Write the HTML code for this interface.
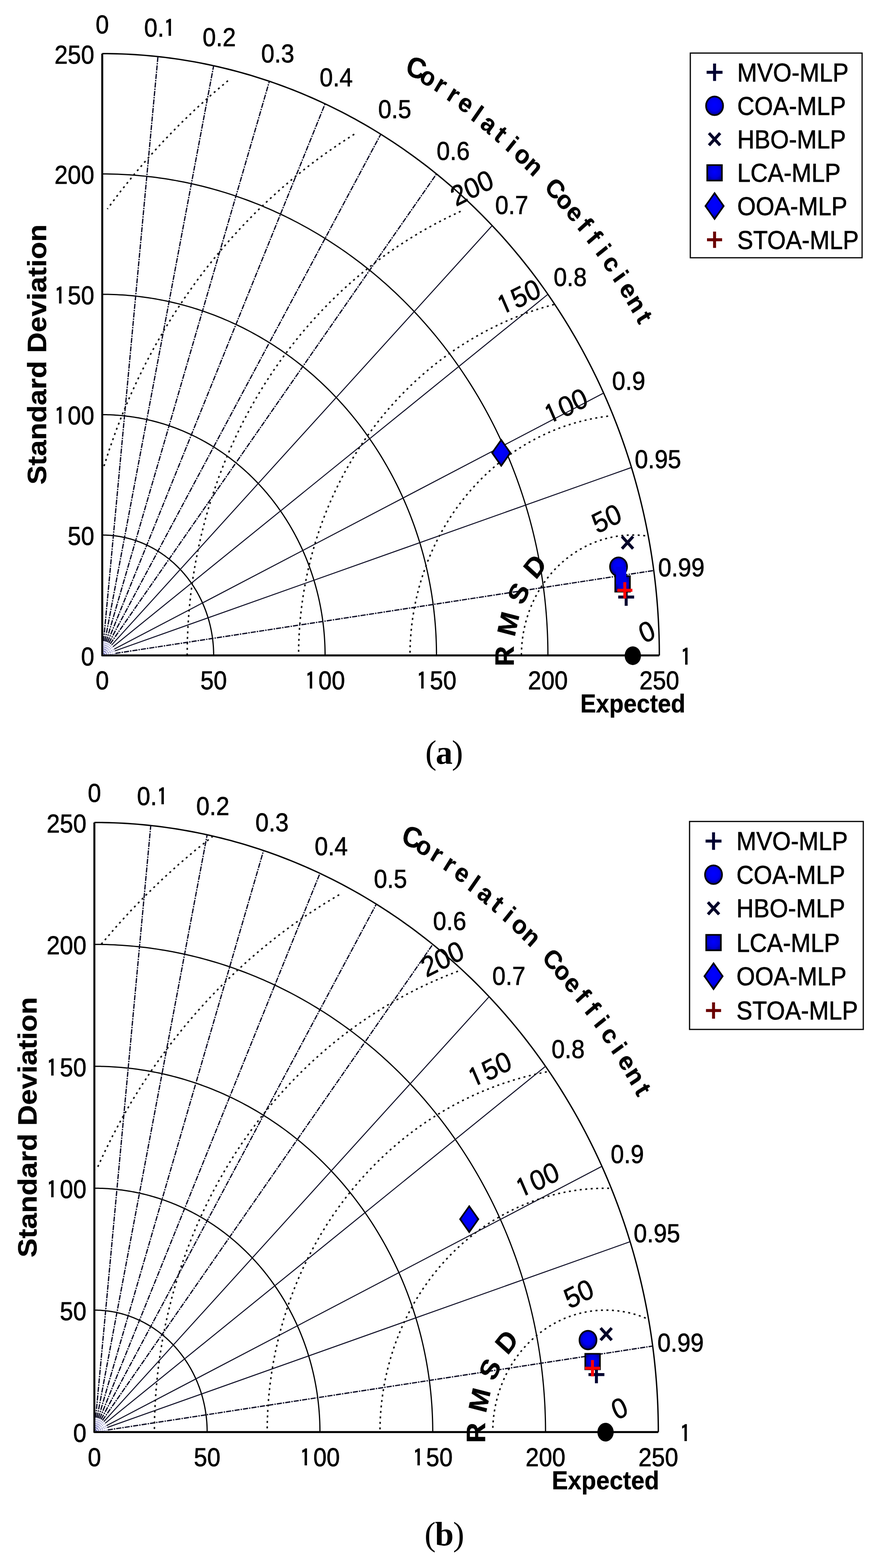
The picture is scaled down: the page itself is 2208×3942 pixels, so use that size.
<!DOCTYPE html>
<html><head><meta charset="utf-8"><title>Taylor diagrams</title>
<style>
html,body{margin:0;padding:0;background:#fff;overflow:hidden;width:2208px;height:3942px;}
svg{display:block;}
text{font-family:"Liberation Sans",Arial,Helvetica,sans-serif;fill:#000;stroke:#000;stroke-width:0.9px;}
text[font-weight="bold"]{stroke-width:0.5px;}
.one{font-family:"IPAGothic","Liberation Sans",Arial,sans-serif;stroke-width:1.6px;}
</style></head><body>
<svg width="2208" height="3942" viewBox="0 0 2208 3942">
<defs>
<radialGradient id="gb" cx="50%" cy="45%" r="55%"><stop offset="0" stop-color="#0000ff"/><stop offset="0.6" stop-color="#0000f0"/><stop offset="1" stop-color="#00008a"/></radialGradient>
<radialGradient id="gbs" cx="50%" cy="45%" r="60%"><stop offset="0" stop-color="#0000ff"/><stop offset="0.6" stop-color="#0000e0"/><stop offset="1" stop-color="#000090"/></radialGradient>
</defs>
<rect width="2208" height="3942" fill="#fff"/>
<polyline points="537.3,1647.7 537.29,1645.06 537.26,1642.42 537.2,1639.78 537.13,1637.14 537.03,1634.5 536.92,1631.86 536.78,1629.23 536.62,1626.59 536.44,1623.96 536.23,1621.33 536.01,1618.7 535.77,1616.07 535.5,1613.44 535.21,1610.82 534.9,1608.2 534.57,1605.59 534.22,1602.97 533.85,1600.36 533.46,1597.76 533.04,1595.15 532.61,1592.56 532.15,1589.96 531.67,1587.37 531.18,1584.79 530.66,1582.21 530.12,1579.63 529.56,1577.06 528.98,1574.49 528.37,1571.94 527.75,1569.38 527.11,1566.83 526.45,1564.29 525.76,1561.76 525.06,1559.23 524.33,1556.71 523.59,1554.19 522.82,1551.68 522.03,1549.18 521.23,1546.69 520.4,1544.2 519.56,1541.73 518.69,1539.26 517.8,1536.8 516.9,1534.34 515.97,1531.9 515.03,1529.46 514.06,1527.04 513.08,1524.62 512.07,1522.21 511.05,1519.82 510,1517.43 508.94,1515.05 507.86,1512.68 506.76,1510.32 505.64,1507.97 504.5,1505.64 503.34,1503.31 502.17,1501 500.97,1498.69 499.76,1496.4 498.53,1494.12 497.28,1491.85 496.01,1489.59 494.72,1487.35 493.42,1485.11 492.1,1482.89 490.75,1480.68 489.4,1478.49 488.02,1476.31 486.63,1474.14 485.22,1471.98 483.79,1469.84 482.34,1467.71 480.88,1465.59 479.4,1463.49 477.9,1461.4 476.39,1459.33 474.86,1457.27 473.31,1455.22 471.75,1453.19 470.17,1451.18 468.57,1449.18 466.96,1447.19 465.33,1445.22 463.69,1443.27 462.03,1441.33 460.35,1439.4 458.66,1437.5 456.95,1435.6 455.23,1433.73 453.49,1431.87 451.74,1430.03 449.98,1428.2 448.2,1426.39 446.4,1424.6 444.59,1422.82 442.77,1421.07 440.93,1419.32 439.08,1417.6 437.21,1415.89 435.33,1414.21 433.44,1412.54 431.53,1410.88 429.61,1409.25 427.67,1407.63 425.73,1406.03 423.77,1404.45 421.8,1402.89 419.81,1401.35 417.82,1399.82 415.81,1398.32 413.79,1396.83 411.75,1395.37 409.71,1393.92 407.65,1392.49 405.58,1391.08 403.5,1389.69 401.41,1388.32 399.31,1386.97 397.2,1385.64 395.08,1384.33 392.94,1383.04 390.8,1381.77 388.65,1380.52 386.48,1379.29 384.31,1378.08 382.12,1376.89 379.93,1375.72 377.73,1374.58 375.52,1373.45 373.3,1372.35 371.07,1371.26 368.83,1370.2 366.58,1369.16 364.33,1368.13 362.06,1367.13 359.79,1366.16 357.51,1365.2 355.23,1364.26 352.93,1363.35 350.63,1362.46 348.32,1361.59 346.01,1360.74 343.69,1359.91 341.36,1359.11 339.02,1358.32 336.68,1357.56 334.33,1356.82 331.98,1356.11 329.62,1355.41 327.26,1354.74 324.89,1354.09 322.51,1353.46 320.13,1352.86 317.75,1352.27 315.36,1351.71 312.96,1351.17 310.56,1350.66 308.16,1350.17 305.76,1349.7 303.35,1349.25 300.93,1348.83 298.52,1348.42 296.1,1348.04 293.67,1347.69 291.25,1347.36 288.82,1347.05 286.39,1346.76 283.96,1346.49 281.52,1346.25 279.08,1346.03 276.65,1345.84 274.21,1345.66 271.76,1345.51 269.32,1345.39 266.88,1345.28 264.43,1345.2 261.99,1345.15 259.55,1345.11 257.1,1345.1" fill="none" stroke="#000" stroke-width="3"/>
<polyline points="817.5,1647.7 817.48,1642.42 817.41,1637.14 817.31,1631.86 817.16,1626.58 816.97,1621.3 816.73,1616.03 816.45,1610.75 816.13,1605.48 815.77,1600.22 815.37,1594.95 814.92,1589.69 814.43,1584.44 813.9,1579.19 813.32,1573.94 812.71,1568.71 812.05,1563.47 811.34,1558.25 810.6,1553.03 809.81,1547.81 808.99,1542.61 808.12,1537.41 807.2,1532.22 806.25,1527.04 805.25,1521.87 804.22,1516.71 803.14,1511.56 802.02,1506.42 800.85,1501.29 799.65,1496.17 798.4,1491.06 797.12,1485.97 795.79,1480.88 794.42,1475.81 793.01,1470.76 791.56,1465.71 790.07,1460.68 788.54,1455.67 786.97,1450.67 785.36,1445.68 783.7,1440.71 782.01,1435.75 780.28,1430.82 778.51,1425.89 776.69,1420.99 774.84,1416.1 772.95,1411.23 771.02,1406.38 769.05,1401.54 767.04,1396.73 764.99,1391.93 762.91,1387.15 760.78,1382.4 758.62,1377.66 756.42,1372.94 754.18,1368.25 751.9,1363.58 749.59,1358.92 747.24,1354.29 744.85,1349.69 742.42,1345.1 739.96,1340.54 737.46,1336 734.92,1331.48 732.35,1326.99 729.74,1322.53 727.09,1318.08 724.41,1313.67 721.69,1309.28 718.94,1304.91 716.15,1300.57 713.33,1296.26 710.47,1291.97 707.58,1287.71 704.66,1283.48 701.7,1279.28 698.7,1275.1 695.67,1270.95 692.61,1266.84 689.52,1262.75 686.39,1258.68 683.23,1254.65 680.04,1250.65 676.81,1246.68 673.56,1242.74 670.27,1238.83 666.95,1234.95 663.6,1231.11 660.22,1227.29 656.81,1223.51 653.36,1219.76 649.89,1216.04 646.39,1212.36 642.85,1208.7 639.29,1205.08 635.7,1201.5 632.08,1197.95 628.43,1194.43 624.76,1190.95 621.05,1187.5 617.32,1184.09 613.56,1180.71 609.77,1177.37 605.96,1174.07 602.12,1170.8 598.25,1167.56 594.36,1164.37 590.44,1161.21 586.49,1158.08 582.53,1155 578.53,1151.95 574.51,1148.94 570.47,1145.97 566.41,1143.03 562.32,1140.14 558.2,1137.28 554.07,1134.46 549.91,1131.68 545.73,1128.94 541.52,1126.24 537.3,1123.58 533.05,1120.96 528.79,1118.38 524.5,1115.84 520.19,1113.34 515.86,1110.88 511.52,1108.46 507.15,1106.09 502.76,1103.75 498.36,1101.46 493.94,1099.2 489.49,1096.99 485.04,1094.82 480.56,1092.7 476.07,1090.61 471.56,1088.57 467.03,1086.57 462.49,1084.61 457.93,1082.7 453.36,1080.83 448.77,1079 444.17,1077.21 439.55,1075.47 434.92,1073.77 430.27,1072.12 425.62,1070.51 420.95,1068.94 416.26,1067.42 411.57,1065.94 406.86,1064.51 402.14,1063.12 397.41,1061.78 392.67,1060.48 387.92,1059.22 383.16,1058.01 378.39,1056.85 373.61,1055.73 368.83,1054.65 364.03,1053.62 359.22,1052.63 354.41,1051.69 349.59,1050.8 344.77,1049.95 339.93,1049.15 335.09,1048.39 330.25,1047.68 325.4,1047.01 320.54,1046.39 315.68,1045.82 310.81,1045.29 305.94,1044.8 301.07,1044.37 296.19,1043.97 291.31,1043.63 286.43,1043.33 281.54,1043.08 276.66,1042.87 271.77,1042.71 266.88,1042.59 261.99,1042.52 257.1,1042.5" fill="none" stroke="#000" stroke-width="3"/>
<polyline points="1097.7,1647.7 1097.67,1639.78 1097.57,1631.86 1097.41,1623.94 1097.19,1616.02 1096.9,1608.1 1096.55,1600.19 1096.13,1592.28 1095.65,1584.38 1095.11,1576.47 1094.5,1568.58 1093.83,1560.69 1093.1,1552.81 1092.3,1544.93 1091.43,1537.07 1090.51,1529.21 1089.52,1521.36 1088.47,1513.52 1087.35,1505.69 1086.17,1497.87 1084.93,1490.06 1083.62,1482.27 1082.26,1474.48 1080.82,1466.71 1079.33,1458.96 1077.77,1451.22 1076.16,1443.49 1074.47,1435.78 1072.73,1428.08 1070.92,1420.41 1069.06,1412.74 1067.13,1405.1 1065.14,1397.48 1063.08,1389.87 1060.97,1382.28 1058.79,1374.72 1056.56,1367.17 1054.26,1359.65 1051.9,1352.15 1049.48,1344.67 1047.01,1337.21 1044.47,1329.78 1041.87,1322.37 1039.21,1314.99 1036.49,1307.63 1033.71,1300.3 1030.88,1292.99 1027.98,1285.72 1025.03,1278.46 1022.01,1271.24 1018.94,1264.05 1015.81,1256.88 1012.63,1249.75 1009.38,1242.64 1006.08,1235.57 1002.72,1228.52 999.31,1221.51 995.83,1214.54 992.31,1207.59 988.72,1200.68 985.08,1193.8 981.39,1186.96 977.63,1180.15 973.83,1173.38 969.97,1166.64 966.05,1159.94 962.09,1153.28 958.06,1146.65 953.99,1140.06 949.86,1133.52 945.68,1127.01 941.45,1120.54 937.16,1114.11 932.82,1107.72 928.43,1101.37 923.99,1095.07 919.5,1088.8 914.96,1082.58 910.37,1076.4 905.73,1070.27 901.04,1064.18 896.3,1058.13 891.51,1052.13 886.67,1046.17 881.79,1040.26 876.86,1034.4 871.88,1028.58 866.85,1022.81 861.78,1017.09 856.66,1011.41 851.49,1005.79 846.28,1000.21 841.03,994.68 835.73,989.21 830.39,983.78 825,978.4 819.57,973.07 814.1,967.8 808.58,962.57 803.03,957.4 797.43,952.28 791.79,947.22 786.11,942.21 780.39,937.25 774.63,932.34 768.82,927.49 762.99,922.7 757.11,917.96 751.19,913.27 745.24,908.65 739.25,904.07 733.22,899.56 727.16,895.1 721.06,890.7 714.92,886.35 708.75,882.07 702.55,877.84 696.31,873.67 690.04,869.56 683.74,865.51 677.4,861.52 671.03,857.59 664.63,853.72 658.2,849.91 651.74,846.16 645.25,842.47 638.72,838.84 632.17,835.28 625.59,831.77 618.99,828.33 612.35,824.95 605.69,821.64 599,818.38 592.29,815.19 585.55,812.07 578.78,809 571.99,806 565.18,803.07 558.34,800.2 551.48,797.39 544.6,794.65 537.7,791.97 530.77,789.36 523.83,786.81 516.86,784.33 509.87,781.92 502.87,779.57 495.84,777.28 488.8,775.07 481.74,772.92 474.66,770.83 467.57,768.82 460.46,766.87 453.33,764.98 446.19,763.17 439.04,761.42 431.87,759.74 424.69,758.12 417.49,756.58 410.29,755.1 403.07,753.69 395.84,752.35 388.6,751.08 381.35,749.87 374.09,748.73 366.82,747.67 359.54,746.67 352.26,745.74 344.97,744.87 337.67,744.08 330.36,743.35 323.05,742.7 315.74,742.11 308.42,741.59 301.09,741.14 293.77,740.76 286.44,740.45 279.1,740.21 271.77,740.04 264.44,739.93 257.1,739.9" fill="none" stroke="#000" stroke-width="3"/>
<polyline points="1377.9,1647.7 1377.86,1637.14 1377.73,1626.58 1377.52,1616.02 1377.22,1605.46 1376.83,1594.9 1376.36,1584.35 1375.81,1573.81 1375.17,1563.27 1374.44,1552.73 1373.64,1542.21 1372.74,1531.69 1371.76,1521.18 1370.7,1510.68 1369.55,1500.19 1368.31,1489.71 1366.99,1479.24 1365.59,1468.79 1364.1,1458.35 1362.53,1447.93 1360.87,1437.52 1359.13,1427.12 1357.31,1416.74 1355.4,1406.39 1353.41,1396.04 1351.33,1385.72 1349.17,1375.42 1346.93,1365.14 1344.61,1354.88 1342.2,1344.64 1339.71,1334.43 1337.14,1324.23 1334.48,1314.07 1331.75,1303.93 1328.93,1293.81 1326.03,1283.73 1323.04,1273.67 1319.98,1263.63 1316.84,1253.63 1313.61,1243.66 1310.31,1233.72 1306.92,1223.81 1303.46,1213.93 1299.91,1204.09 1296.29,1194.28 1292.58,1184.5 1288.8,1174.76 1284.94,1165.05 1281,1155.39 1276.98,1145.76 1272.89,1136.16 1268.72,1126.61 1264.47,1117.1 1260.14,1107.62 1255.74,1098.19 1251.26,1088.8 1246.71,1079.45 1242.08,1070.15 1237.37,1060.89 1232.59,1051.67 1227.74,1042.5 1222.81,1033.38 1217.81,1024.3 1212.74,1015.27 1207.59,1006.29 1202.37,997.35 1197.08,988.47 1191.72,979.64 1186.29,970.85 1180.78,962.12 1175.21,953.44 1169.56,944.82 1163.85,936.24 1158.06,927.73 1152.21,919.26 1146.29,910.86 1140.3,902.5 1134.25,894.21 1128.13,885.97 1121.94,877.79 1115.68,869.67 1109.36,861.61 1102.98,853.61 1096.53,845.66 1090.02,837.78 1083.44,829.97 1076.8,822.21 1070.1,814.52 1063.34,806.89 1056.51,799.32 1049.63,791.82 1042.68,784.38 1035.67,777.01 1028.61,769.71 1021.48,762.47 1014.3,755.3 1007.06,748.2 999.76,741.16 992.41,734.2 985,727.3 977.54,720.48 970.02,713.73 962.44,707.04 954.81,700.43 947.13,693.89 939.4,687.43 931.61,681.03 923.78,674.71 915.89,668.47 907.95,662.29 899.96,656.2 891.93,650.18 883.84,644.23 875.71,638.36 867.53,632.57 859.31,626.86 851.03,621.22 842.72,615.66 834.35,610.18 825.95,604.78 817.5,599.46 809.01,594.22 800.47,589.06 791.9,583.98 783.28,578.98 774.63,574.06 765.93,569.23 757.2,564.47 748.43,559.8 739.62,555.21 730.77,550.71 721.89,546.28 712.97,541.94 704.02,537.69 695.03,533.52 686.01,529.44 676.96,525.44 667.87,521.52 658.76,517.69 649.61,513.95 640.44,510.3 631.23,506.73 622,503.24 612.74,499.85 603.45,496.54 594.13,493.32 584.79,490.19 575.42,487.14 566.03,484.19 556.62,481.32 547.18,478.54 537.73,475.85 528.25,473.25 518.75,470.74 509.23,468.32 499.69,465.99 490.13,463.75 480.55,461.6 470.96,459.54 461.35,457.57 451.72,455.69 442.09,453.9 432.43,452.2 422.76,450.6 413.09,449.08 403.39,447.66 393.69,446.32 383.98,445.08 374.26,443.93 364.52,442.87 354.78,441.91 345.04,441.03 335.28,440.25 325.52,439.56 315.76,438.96 305.99,438.45 296.22,438.04 286.44,437.71 276.66,437.48 266.88,437.35 257.1,437.3" fill="none" stroke="#000" stroke-width="3"/>
<polyline points="1658.1,1647.7 1658.05,1634.5 1657.89,1621.29 1657.62,1608.09 1657.25,1594.9 1656.77,1581.7 1656.18,1568.52 1655.49,1555.33 1654.69,1542.16 1653.78,1528.99 1652.77,1515.83 1651.65,1502.69 1650.43,1489.55 1649.09,1476.42 1647.66,1463.31 1646.11,1450.21 1644.47,1437.13 1642.71,1424.06 1640.85,1411.01 1638.89,1397.98 1636.82,1384.97 1634.64,1371.98 1632.36,1359.01 1629.97,1346.06 1627.48,1333.13 1624.89,1320.23 1622.19,1307.35 1619.39,1294.5 1616.48,1281.67 1613.47,1268.88 1610.36,1256.11 1607.15,1243.37 1603.83,1230.66 1600.41,1217.98 1596.88,1205.34 1593.26,1192.73 1589.53,1180.16 1585.7,1167.62 1581.77,1155.12 1577.74,1142.65 1573.61,1130.22 1569.38,1117.84 1565.05,1105.49 1560.62,1093.18 1556.08,1080.92 1551.46,1068.7 1546.73,1056.52 1541.9,1044.39 1536.98,1032.31 1531.96,1020.27 1526.84,1008.28 1521.62,996.34 1516.31,984.44 1510.9,972.6 1505.4,960.81 1499.8,949.07 1494.11,937.39 1488.32,925.76 1482.44,914.18 1476.47,902.66 1470.4,891.2 1464.24,879.79 1457.99,868.45 1451.65,857.16 1445.22,845.93 1438.69,834.77 1432.08,823.66 1425.37,812.62 1418.58,801.64 1411.7,790.73 1404.73,779.88 1397.68,769.1 1390.53,758.38 1383.3,747.73 1375.99,737.15 1368.59,726.64 1361.1,716.2 1353.53,705.84 1345.88,695.54 1338.15,685.31 1330.33,675.16 1322.43,665.09 1314.45,655.08 1306.39,645.16 1298.25,635.31 1290.03,625.53 1281.73,615.84 1273.35,606.22 1264.9,596.68 1256.36,587.22 1247.76,577.85 1239.07,568.55 1230.32,559.34 1221.48,550.21 1212.58,541.16 1203.6,532.2 1194.55,523.32 1185.43,514.53 1176.24,505.82 1166.98,497.21 1157.65,488.67 1148.25,480.23 1138.78,471.88 1129.24,463.61 1119.64,455.44 1109.97,447.36 1100.24,439.36 1090.45,431.46 1080.59,423.66 1070.66,415.94 1060.68,408.32 1050.64,400.8 1040.53,393.37 1030.36,386.03 1020.14,378.79 1009.86,371.65 999.52,364.6 989.12,357.66 978.67,350.81 968.16,344.06 957.6,337.4 946.99,330.85 936.32,324.4 925.6,318.05 914.83,311.8 904.01,305.65 893.14,299.61 882.22,293.66 871.26,287.82 860.25,282.09 849.19,276.46 838.09,270.93 826.94,265.51 815.75,260.19 804.51,254.98 793.24,249.87 781.92,244.87 770.57,239.98 759.17,235.19 747.74,230.51 736.27,225.95 724.76,221.48 713.22,217.13 701.64,212.89 690.03,208.75 678.39,204.73 666.71,200.81 655.01,197.01 643.27,193.31 631.5,189.73 619.71,186.25 607.88,182.89 596.03,179.64 584.16,176.5 572.26,173.48 560.33,170.56 548.38,167.76 536.41,165.07 524.42,162.5 512.41,160.04 500.38,157.69 488.33,155.45 476.26,153.33 464.18,151.32 452.08,149.42 439.97,147.64 427.84,145.98 415.7,144.43 403.54,142.99 391.38,141.67 379.21,140.46 367.02,139.36 354.83,138.39 342.63,137.52 330.42,136.77 318.21,136.14 305.99,135.62 293.77,135.22 281.55,134.93 269.33,134.76 257.1,134.7" fill="none" stroke="#000" stroke-width="3.4"/>
<line x1="257.1" y1="1647.7" x2="260.46" y2="1611.57" stroke="#6a6ab8" stroke-width="1.4" stroke-dasharray="3 2"/>
<line x1="260.46" y1="1611.57" x2="397.2" y2="142.28" stroke="#0c0c24" stroke-width="3.2" stroke-dasharray="13 2.5 3.5 2.5"/>
<line x1="257.1" y1="1647.7" x2="263.82" y2="1612.12" stroke="#6a6ab8" stroke-width="1.4" stroke-dasharray="3 2"/>
<line x1="263.82" y1="1612.12" x2="537.3" y2="165.27" stroke="#0c0c24" stroke-width="3.2" stroke-dasharray="13 2.5 3.5 2.5"/>
<line x1="257.1" y1="1647.7" x2="267.19" y2="1613.06" stroke="#6a6ab8" stroke-width="1.4" stroke-dasharray="3 2"/>
<line x1="267.19" y1="1613.06" x2="677.4" y2="204.39" stroke="#0c0c24" stroke-width="3.2" stroke-dasharray="13 2.5 3.5 2.5"/>
<line x1="257.1" y1="1647.7" x2="270.55" y2="1614.42" stroke="#6a6ab8" stroke-width="1.4" stroke-dasharray="3 2"/>
<line x1="270.55" y1="1614.42" x2="817.5" y2="261.01" stroke="#0c0c24" stroke-width="3.2" stroke-dasharray="13 2.5 3.5 2.5"/>
<line x1="257.1" y1="1647.7" x2="273.91" y2="1616.25" stroke="#6a6ab8" stroke-width="1.4" stroke-dasharray="3 2"/>
<line x1="273.91" y1="1616.25" x2="957.6" y2="337.4" stroke="#0c0c24" stroke-width="3.2" stroke-dasharray="13 2.5 3.5 2.5"/>
<line x1="257.1" y1="1647.7" x2="277.27" y2="1618.65" stroke="#6a6ab8" stroke-width="1.4" stroke-dasharray="3 2"/>
<line x1="277.27" y1="1618.65" x2="1097.7" y2="437.3" stroke="#0c0c24" stroke-width="3.2" stroke-dasharray="13 2.5 3.5 2.5"/>
<line x1="257.1" y1="1647.7" x2="280.64" y2="1621.77" stroke="#6a6ab8" stroke-width="1.4" stroke-dasharray="3 2"/>
<line x1="280.64" y1="1621.77" x2="1237.8" y2="567.2" stroke="#0c0c24" stroke-width="2.5"/>
<line x1="257.1" y1="1647.7" x2="284" y2="1625.91" stroke="#6a6ab8" stroke-width="1.4" stroke-dasharray="3 2"/>
<line x1="284" y1="1625.91" x2="1377.9" y2="739.9" stroke="#0c0c24" stroke-width="2.5"/>
<line x1="257.1" y1="1647.7" x2="287.36" y2="1631.87" stroke="#6a6ab8" stroke-width="1.4" stroke-dasharray="3 2"/>
<line x1="287.36" y1="1631.87" x2="1518" y2="988.2" stroke="#0c0c24" stroke-width="2.5"/>
<line x1="257.1" y1="1647.7" x2="289.04" y2="1636.36" stroke="#6a6ab8" stroke-width="1.4" stroke-dasharray="3 2"/>
<line x1="289.04" y1="1636.36" x2="1588.05" y2="1175.27" stroke="#0c0c24" stroke-width="2.5"/>
<line x1="257.1" y1="1647.7" x2="290.39" y2="1642.58" stroke="#6a6ab8" stroke-width="1.4" stroke-dasharray="3 2"/>
<line x1="290.39" y1="1642.58" x2="1644.09" y2="1434.27" stroke="#0c0c24" stroke-width="3.2" stroke-dasharray="13 2.5 3.5 2.5"/>
<polyline points="1622.47,1346.96 1613.62,1346.05 1604.74,1345.44 1595.86,1345.14 1586.97,1345.14 1578.08,1345.44 1569.21,1346.05 1560.36,1346.96 1551.54,1348.18 1542.76,1349.7 1534.03,1351.51 1525.35,1353.63 1516.75,1356.04 1508.22,1358.75 1499.77,1361.74 1491.41,1365.03 1483.16,1368.6 1475.01,1372.45 1466.98,1376.57 1459.08,1380.97 1451.31,1385.64 1443.68,1390.57 1436.2,1395.76 1428.88,1401.21 1421.72,1406.9 1414.73,1412.84 1407.92,1419.01 1401.29,1425.41 1394.86,1432.04 1388.62,1438.88 1382.59,1445.94 1376.77,1453.19 1371.16,1460.65 1365.78,1468.29 1360.62,1476.11 1355.69,1484.1 1351.01,1492.26 1346.56,1500.58 1342.36,1509.04 1338.41,1517.64 1334.72,1526.38 1331.28,1535.23 1328.11,1544.2 1325.2,1553.28 1322.56,1562.45 1320.19,1571.7 1318.1,1581.03 1316.28,1590.43 1314.73,1599.89 1313.47,1609.39 1312.48,1618.94 1311.78,1628.51 1311.35,1638.1 1311.21,1647.7" fill="none" stroke="#111" stroke-width="3.8" stroke-dasharray="5 8.8"/>
<polyline points="1529.3,1046.23 1511.66,1048.66 1494.1,1051.69 1476.64,1055.33 1459.29,1059.56 1442.08,1064.38 1425.02,1069.79 1408.12,1075.79 1391.41,1082.35 1374.9,1089.49 1358.61,1097.19 1342.56,1105.44 1326.75,1114.24 1311.21,1123.58 1295.96,1133.45 1281,1143.83 1266.35,1154.72 1252.03,1166.1 1238.05,1177.98 1224.43,1190.32 1211.18,1203.13 1198.31,1216.38 1185.83,1230.06 1173.77,1244.17 1162.12,1258.68 1150.91,1273.59 1140.14,1288.87 1129.82,1304.52 1119.97,1320.5 1110.6,1336.82 1101.71,1353.45 1093.31,1370.38 1085.41,1387.59 1078.03,1405.06 1071.16,1422.77 1064.81,1440.71 1058.99,1458.86 1053.71,1477.2 1048.97,1495.71 1044.78,1514.37 1041.14,1533.17 1038.05,1552.08 1035.52,1571.09 1033.55,1590.17 1032.14,1609.32 1031.29,1628.5 1031.01,1647.7" fill="none" stroke="#111" stroke-width="3.8" stroke-dasharray="5 8.8"/>
<polyline points="1393.23,765.49 1367.41,772.72 1341.82,780.84 1316.48,789.83 1291.41,799.68 1266.65,810.39 1242.21,821.94 1218.13,834.32 1194.42,847.52 1171.11,861.52 1148.23,876.32 1125.79,891.89 1103.82,908.23 1082.34,925.31 1061.37,943.11 1040.94,961.63 1021.06,980.84 1001.75,1000.72 983.04,1021.25 964.94,1042.41 947.48,1064.18 930.66,1086.54 914.5,1109.46 899.03,1132.92 884.25,1156.91 870.19,1181.38 856.85,1206.33 844.26,1231.72 832.41,1257.53 821.33,1283.74 811.03,1310.3 801.51,1337.21 792.78,1364.44 784.86,1391.94 777.75,1419.71 771.47,1447.7 766,1475.9 761.37,1504.27 757.58,1532.78 754.62,1561.41 752.5,1590.12 751.24,1618.9 750.81,1647.7" fill="none" stroke="#111" stroke-width="3.8" stroke-dasharray="5 8.8"/>
<polyline points="1158.4,531.28 1125.82,546.68 1093.7,563.19 1062.09,580.79 1031.01,599.46 1000.5,619.19 970.58,639.96 941.28,661.74 912.65,684.51 884.69,708.25 857.44,732.94 830.94,758.55 805.2,785.05 780.25,812.43 756.12,840.64 732.83,869.67 710.4,899.48 688.87,930.04 668.24,961.33 648.54,993.31 629.78,1025.94 612,1059.21 595.21,1093.06 579.41,1127.48 564.64,1162.41 550.9,1197.84 538.2,1233.72 526.57,1270.01 516.01,1306.69 506.54,1343.71 498.15,1381.04 490.87,1418.63 484.69,1456.46 479.63,1494.47 475.69,1532.64 472.87,1570.93 471.18,1609.3 470.61,1647.7" fill="none" stroke="#111" stroke-width="3.8" stroke-dasharray="5 8.8"/>
<polyline points="890.91,337.4 852.77,362.07 815.37,388.02 778.75,415.25 742.95,443.71 708.01,473.39 673.95,504.25 640.82,536.26 608.65,569.39 577.46,603.61 547.3,638.88 518.18,675.16 490.15,712.43 463.23,750.63 437.44,789.74 412.82,829.71 389.38,870.51 367.15,912.08 346.15,954.4 326.41,997.42 307.94,1041.09 290.77,1085.37 274.9,1130.22 260.36,1175.59" fill="none" stroke="#111" stroke-width="3.8" stroke-dasharray="5 8.8"/>
<polyline points="573.26,202.91 531.33,238.53 490.46,275.56 450.7,313.98 412.09,353.73 374.67,394.79 338.47,437.11 303.54,480.65 269.9,525.37" fill="none" stroke="#111" stroke-width="3.8" stroke-dasharray="5 8.8"/>
<polyline points="257.1,134.7 257.1,1647.7 1658.1,1647.7" fill="none" stroke="#000" stroke-width="5" stroke-linejoin="round"/>
<text transform="translate(257.1 1733.1) scale(1 1.0799)" x="0" y="0" font-size="60" text-anchor="middle">0</text>
<text transform="translate(237.1 1672.64) scale(1 1.0799)" x="0" y="0" font-size="60" text-anchor="end">0</text>
<text transform="translate(537.3 1733.1) scale(1 1.0799)" x="0" y="0" font-size="60" text-anchor="middle">50</text>
<text transform="translate(237.1 1370.04) scale(1 1.0799)" x="0" y="0" font-size="60" text-anchor="end">50</text>
<text transform="translate(817.5 1733.1) scale(1 1.0799)" x="0" y="0" font-size="60" text-anchor="middle"><tspan class="one" font-size="54.96" letter-spacing="5.88">1</tspan>00</text>
<text transform="translate(237.1 1067.44) scale(1 1.0799)" x="0" y="0" font-size="60" text-anchor="end"><tspan class="one" font-size="54.96" letter-spacing="5.88">1</tspan>00</text>
<text transform="translate(1097.7 1733.1) scale(1 1.0799)" x="0" y="0" font-size="60" text-anchor="middle"><tspan class="one" font-size="54.96" letter-spacing="5.88">1</tspan>50</text>
<text transform="translate(237.1 764.84) scale(1 1.0799)" x="0" y="0" font-size="60" text-anchor="end"><tspan class="one" font-size="54.96" letter-spacing="5.88">1</tspan>50</text>
<text transform="translate(1377.9 1733.1) scale(1 1.0799)" x="0" y="0" font-size="60" text-anchor="middle">200</text>
<text transform="translate(237.1 462.24) scale(1 1.0799)" x="0" y="0" font-size="60" text-anchor="end">200</text>
<text transform="translate(1658.1 1733.1) scale(1 1.0799)" x="0" y="0" font-size="60" text-anchor="middle">250</text>
<text transform="translate(237.1 159.64) scale(1 1.0799)" x="0" y="0" font-size="60" text-anchor="end">250</text>
<text transform="translate(257.1 83.99) scale(1 1.0799)" x="0" y="0" font-size="60" text-anchor="middle">0</text>
<text transform="translate(404.21 91.95) scale(1 1.0799)" x="0" y="0" font-size="60" text-anchor="middle">0.<tspan class="one" font-size="54.96" letter-spacing="5.88">1</tspan></text>
<text transform="translate(551.31 116.09) scale(1 1.0799)" x="0" y="0" font-size="60" text-anchor="middle">0.2</text>
<text transform="translate(698.41 157.16) scale(1 1.0799)" x="0" y="0" font-size="60" text-anchor="middle">0.3</text>
<text transform="translate(845.52 216.62) scale(1 1.0799)" x="0" y="0" font-size="60" text-anchor="middle">0.4</text>
<text transform="translate(992.62 296.83) scale(1 1.0799)" x="0" y="0" font-size="60" text-anchor="middle">0.5</text>
<text transform="translate(1139.73 401.72) scale(1 1.0799)" x="0" y="0" font-size="60" text-anchor="middle">0.6</text>
<text transform="translate(1286.84 538.11) scale(1 1.0799)" x="0" y="0" font-size="60" text-anchor="middle">0.7</text>
<text transform="translate(1433.94 719.45) scale(1 1.0799)" x="0" y="0" font-size="60" text-anchor="middle">0.8</text>
<text transform="translate(1581.05 980.16) scale(1 1.0799)" x="0" y="0" font-size="60" text-anchor="middle">0.9</text>
<text transform="translate(1654.6 1176.58) scale(1 1.0799)" x="0" y="0" font-size="60" text-anchor="middle">0.95</text>
<text transform="translate(1713.44 1448.53) scale(1 1.0799)" x="0" y="0" font-size="60" text-anchor="middle">0.99</text>
<text transform="translate(1728.15 1672.64) scale(1 1.0799)" x="0" y="0" font-size="60" text-anchor="middle"><tspan class="one" font-size="54.96" letter-spacing="5.88">1</tspan></text>
<text transform="translate(1592.11 1649.2) scale(1 1.0799) rotate(-25)" x="0" y="-13.99" font-size="66" text-anchor="start" xml:space="preserve">  0</text>
<text transform="translate(1474.49 1372.95) scale(1 1.0799) rotate(-25)" x="0" y="-13.99" font-size="66" text-anchor="start" xml:space="preserve">  50</text>
<text transform="translate(1356.08 1098.7) scale(1 1.0799) rotate(-25)" x="0" y="-13.99" font-size="66" text-anchor="start" xml:space="preserve">  <tspan class="one" font-size="60.46" letter-spacing="6.47">1</tspan>00</text>
<text transform="translate(1237.66 824.45) scale(1 1.0799) rotate(-25)" x="0" y="-13.99" font-size="66" text-anchor="start" xml:space="preserve">  <tspan class="one" font-size="60.46" letter-spacing="6.47">1</tspan>50</text>
<text transform="translate(1119.24 550.21) scale(1 1.0799) rotate(-25)" x="0" y="-13.99" font-size="66" text-anchor="start" xml:space="preserve">  200</text>
<text transform="translate(1036.15 207.37) scale(1 1.0799) rotate(18)" x="0" y="-12.72" font-size="67" text-anchor="middle" font-weight="bold">C</text>
<text transform="translate(1060.19 223.59) scale(1 1.0799) rotate(31.36)" x="0" y="-12.72" font-size="60" text-anchor="middle" font-weight="bold">o</text>
<text transform="translate(1091.28 242.6) scale(1 1.0799) rotate(32.73)" x="0" y="-12.72" font-size="60" text-anchor="middle" font-weight="bold">r</text>
<text transform="translate(1122.9 266.41) scale(1 1.0799) rotate(34.09)" x="0" y="-12.72" font-size="60" text-anchor="middle" font-weight="bold">r</text>
<text transform="translate(1153.03 289) scale(1 1.0799) rotate(35.45)" x="0" y="-12.72" font-size="60" text-anchor="middle" font-weight="bold">e</text>
<text transform="translate(1180.65 315.36) scale(1 1.0799) rotate(36.82)" x="0" y="-12.72" font-size="60" text-anchor="middle" font-weight="bold">l</text>
<text transform="translate(1209.74 339.47) scale(1 1.0799) rotate(38.18)" x="0" y="-12.72" font-size="60" text-anchor="middle" font-weight="bold">a</text>
<text transform="translate(1238.3 364.33) scale(1 1.0799) rotate(39.55)" x="0" y="-12.72" font-size="60" text-anchor="middle" font-weight="bold">t</text>
<text transform="translate(1266.31 389.91) scale(1 1.0799) rotate(40.91)" x="0" y="-12.72" font-size="60" text-anchor="middle" font-weight="bold">i</text>
<text transform="translate(1293.74 416.2) scale(1 1.0799) rotate(42.27)" x="0" y="-12.72" font-size="60" text-anchor="middle" font-weight="bold">o</text>
<text transform="translate(1320.58 443.19) scale(1 1.0799) rotate(43.64)" x="0" y="-12.72" font-size="60" text-anchor="middle" font-weight="bold">n</text>
<text transform="translate(1372.45 499.2) scale(1 1.0799) rotate(46.36)" x="0" y="-12.72" font-size="60" text-anchor="middle" font-weight="bold">C</text>
<text transform="translate(1397.44 528.19) scale(1 1.0799) rotate(47.73)" x="0" y="-12.72" font-size="60" text-anchor="middle" font-weight="bold">o</text>
<text transform="translate(1421.79 557.82) scale(1 1.0799) rotate(49.09)" x="0" y="-12.72" font-size="60" text-anchor="middle" font-weight="bold">e</text>
<text transform="translate(1445.47 588.06) scale(1 1.0799) rotate(50.45)" x="0" y="-12.72" font-size="60" text-anchor="middle" font-weight="bold">f</text>
<text transform="translate(1468.49 618.9) scale(1 1.0799) rotate(51.82)" x="0" y="-12.72" font-size="60" text-anchor="middle" font-weight="bold">f</text>
<text transform="translate(1490.81 650.32) scale(1 1.0799) rotate(53.18)" x="0" y="-12.72" font-size="60" text-anchor="middle" font-weight="bold">i</text>
<text transform="translate(1512.44 682.31) scale(1 1.0799) rotate(54.55)" x="0" y="-12.72" font-size="60" text-anchor="middle" font-weight="bold">c</text>
<text transform="translate(1533.36 714.85) scale(1 1.0799) rotate(55.91)" x="0" y="-12.72" font-size="60" text-anchor="middle" font-weight="bold">i</text>
<text transform="translate(1553.56 747.91) scale(1 1.0799) rotate(57.27)" x="0" y="-12.72" font-size="60" text-anchor="middle" font-weight="bold">e</text>
<text transform="translate(1573.02 781.49) scale(1 1.0799) rotate(58.64)" x="0" y="-12.72" font-size="60" text-anchor="middle" font-weight="bold">n</text>
<text transform="translate(1591.73 815.55) scale(1 1.0799) rotate(60)" x="0" y="-12.72" font-size="60" text-anchor="middle" font-weight="bold">t</text>
<text transform="translate(1306.11 1649.5) scale(1 1.0799) rotate(-90)" x="0" y="-13.99" font-size="66" text-anchor="middle" font-weight="bold">R</text>
<text transform="translate(1313.89 1577.62) scale(1 1.0799) rotate(-76.67)" x="0" y="-13.99" font-size="66" text-anchor="middle" font-weight="bold">M</text>
<text transform="translate(1336.8 1509.62) scale(1 1.0799) rotate(-63.33)" x="0" y="-13.99" font-size="66" text-anchor="middle" font-weight="bold">S</text>
<text transform="translate(1373.63 1449.16) scale(1 1.0799) rotate(-50)" x="0" y="-13.99" font-size="66" text-anchor="middle" font-weight="bold">D</text>
<text transform="translate(115.9 891.2) scale(1 1.0799) rotate(-90)" x="0" y="0" font-size="66.5" text-anchor="middle" font-weight="bold">Standard Deviation</text>
<text transform="translate(1591.41 1791.3) scale(1 1.0799)" x="0" y="0" font-size="59.5" text-anchor="middle" font-weight="bold">Expected</text>
<ellipse cx="1591.4" cy="1648.4" rx="20.5" ry="23.5" fill="#000"/>
<path d="M1554.7 1501L1594.7 1501M1574.7 1479.1L1574.7 1522.9" stroke="#000030" stroke-width="7.5"/>
<rect x="1547.2" y="1448.5" width="37" height="39" fill="url(#gbs)" stroke="#000" stroke-width="4"/>
<ellipse cx="1555.5" cy="1424.8" rx="21.5" ry="23.5" fill="url(#gb)" stroke="#000" stroke-width="4"/>
<rect x="1549.2" y="1450.5" width="33" height="35" fill="url(#gbs)"/>
<ellipse cx="1555.5" cy="1424.8" rx="19.5" ry="21.5" fill="url(#gb)"/>
<rect x="1549.2" y="1424.8" width="25.8" height="43.2" fill="#0000e8"/>
<path d="M1564.1 1348.8L1592.1 1379.4M1564.1 1379.4L1592.1 1348.8" stroke="#000028" stroke-width="7.5"/>
<polygon points="1260.5,1106 1283.5,1138.5 1260.5,1171 1237.5,1138.5" fill="url(#gb)" stroke="#000" stroke-width="4" stroke-linejoin="miter"/>
<path d="M1552.3 1484L1590.3 1484M1571.3 1463.5L1571.3 1504.5" stroke="#ff0000" stroke-width="7.5"/>
<rect x="1736" y="133.4" width="432" height="514.6" fill="#fff" stroke="#000" stroke-width="3"/>
<path d="M1777 181.7L1817 181.7M1797 159.8L1797 203.6" stroke="#000030" stroke-width="7.5"/>
<text transform="translate(1854 204.64) scale(1 1.0799)" font-size="60">MVO-MLP</text>
<ellipse cx="1797" cy="266" rx="21.5" ry="23.5" fill="url(#gb)" stroke="#000" stroke-width="4"/>
<text transform="translate(1854 288.94) scale(1 1.0799)" font-size="60">COA-MLP</text>
<path d="M1783 334.7L1811 365.3M1783 365.3L1811 334.7" stroke="#000028" stroke-width="7.5"/>
<text transform="translate(1854 372.94) scale(1 1.0799)" font-size="60">HBO-MLP</text>
<rect x="1778.5" y="415" width="37" height="39" fill="url(#gbs)" stroke="#000" stroke-width="4"/>
<text transform="translate(1854 457.44) scale(1 1.0799)" font-size="60">LCA-MLP</text>
<polygon points="1797,485.5 1820,518 1797,550.5 1774,518" fill="url(#gb)" stroke="#000" stroke-width="4" stroke-linejoin="miter"/>
<text transform="translate(1854 540.94) scale(1 1.0799)" font-size="60">OOA-MLP</text>
<path d="M1778 602.8L1816 602.8M1797 582.3L1797 623.3" stroke="#6a0000" stroke-width="7.5"/>
<text transform="translate(1854 625.74) scale(1 1.0799)" font-size="60">STOA-MLP</text>
<text x="1116" y="1919.5" style="font-family:'Liberation Serif','Times New Roman',serif;stroke:none" font-size="85" letter-spacing="-2" text-anchor="middle">(<tspan font-weight="bold">a</tspan>)</text>
<polyline points="520.95,3600.2 520.94,3597.53 520.91,3594.85 520.85,3592.18 520.78,3589.5 520.68,3586.83 520.56,3584.16 520.42,3581.49 520.26,3578.82 520.08,3576.15 519.87,3573.49 519.64,3570.82 519.4,3568.16 519.13,3565.5 518.84,3562.85 518.52,3560.19 518.19,3557.54 517.83,3554.9 517.46,3552.25 517.06,3549.61 516.64,3546.98 516.2,3544.34 515.74,3541.72 515.26,3539.09 514.75,3536.48 514.23,3533.86 513.68,3531.25 513.11,3528.65 512.52,3526.05 511.92,3523.46 511.28,3520.87 510.63,3518.29 509.96,3515.72 509.27,3513.15 508.56,3510.59 507.82,3508.03 507.07,3505.49 506.29,3502.95 505.5,3500.41 504.68,3497.89 503.84,3495.37 502.99,3492.86 502.11,3490.36 501.21,3487.87 500.3,3485.38 499.36,3482.91 498.4,3480.44 497.42,3477.98 496.43,3475.54 495.41,3473.1 494.37,3470.67 493.32,3468.25 492.24,3465.84 491.15,3463.44 490.03,3461.05 488.9,3458.67 487.75,3456.31 486.58,3453.95 485.39,3451.61 484.18,3449.27 482.95,3446.95 481.7,3444.64 480.44,3442.34 479.15,3440.05 477.85,3437.78 476.53,3435.52 475.19,3433.27 473.83,3431.03 472.46,3428.81 471.06,3426.6 469.65,3424.4 468.22,3422.21 466.78,3420.04 465.31,3417.89 463.83,3415.74 462.33,3413.61 460.82,3411.5 459.29,3409.4 457.74,3407.31 456.17,3405.24 454.59,3403.19 452.99,3401.14 451.37,3399.12 449.74,3397.11 448.09,3395.11 446.43,3393.13 444.75,3391.17 443.05,3389.22 441.34,3387.29 439.61,3385.37 437.87,3383.47 436.11,3381.59 434.34,3379.72 432.55,3377.87 430.75,3376.04 428.93,3374.22 427.1,3372.43 425.25,3370.65 423.39,3368.88 421.52,3367.14 419.63,3365.41 417.72,3363.7 415.81,3362 413.88,3360.33 411.93,3358.67 409.98,3357.04 408,3355.42 406.02,3353.82 404.03,3352.24 402.02,3350.67 399.99,3349.13 397.96,3347.61 395.92,3346.1 393.86,3344.61 391.79,3343.15 389.71,3341.7 387.61,3340.27 385.51,3338.87 383.39,3337.48 381.26,3336.11 379.13,3334.76 376.98,3333.44 374.82,3332.13 372.65,3330.84 370.47,3329.58 368.27,3328.33 366.07,3327.11 363.86,3325.9 361.64,3324.72 359.41,3323.56 357.18,3322.42 354.93,3321.3 352.67,3320.2 350.41,3319.12 348.13,3318.07 345.85,3317.03 343.56,3316.02 341.26,3315.03 338.95,3314.06 336.64,3313.11 334.31,3312.18 331.98,3311.28 329.65,3310.4 327.3,3309.54 324.95,3308.7 322.6,3307.89 320.23,3307.09 317.86,3306.32 315.48,3305.57 313.1,3304.85 310.71,3304.14 308.32,3303.46 305.92,3302.8 303.52,3302.17 301.11,3301.56 298.69,3300.97 296.27,3300.4 293.85,3299.85 291.42,3299.33 288.99,3298.83 286.56,3298.36 284.12,3297.9 281.67,3297.47 279.23,3297.07 276.78,3296.68 274.32,3296.32 271.87,3295.98 269.41,3295.67 266.95,3295.38 264.49,3295.11 262.02,3294.87 259.55,3294.64 257.09,3294.45 254.62,3294.27 252.15,3294.12 249.67,3293.99 247.2,3293.89 244.73,3293.81 242.25,3293.75 239.78,3293.71 237.3,3293.7" fill="none" stroke="#000" stroke-width="3"/>
<polyline points="804.6,3600.2 804.58,3594.85 804.51,3589.5 804.41,3584.15 804.25,3578.81 804.06,3573.46 803.82,3568.12 803.54,3562.78 803.22,3557.44 802.85,3552.1 802.44,3546.77 801.99,3541.45 801.49,3536.12 800.95,3530.81 800.37,3525.49 799.75,3520.19 799.08,3514.89 798.37,3509.59 797.62,3504.31 796.82,3499.03 795.98,3493.75 795.1,3488.49 794.18,3483.23 793.21,3477.99 792.2,3472.75 791.15,3467.52 790.06,3462.31 788.93,3457.1 787.75,3451.9 786.53,3446.72 785.27,3441.54 783.97,3436.38 782.62,3431.23 781.24,3426.1 779.81,3420.98 778.34,3415.87 776.83,3410.77 775.28,3405.69 773.69,3400.63 772.06,3395.58 770.39,3390.54 768.67,3385.52 766.92,3380.52 765.13,3375.53 763.29,3370.57 761.42,3365.62 759.5,3360.68 757.55,3355.77 755.55,3350.87 753.52,3345.99 751.45,3341.14 749.34,3336.3 747.19,3331.48 745,3326.68 742.77,3321.9 740.5,3317.15 738.2,3312.41 735.85,3307.7 733.47,3303.01 731.05,3298.34 728.6,3293.7 726.1,3289.08 723.57,3284.48 721,3279.91 718.4,3275.36 715.76,3270.84 713.08,3266.34 710.36,3261.86 707.61,3257.41 704.83,3252.99 702,3248.6 699.15,3244.23 696.26,3239.89 693.33,3235.57 690.37,3231.29 687.37,3227.03 684.34,3222.8 681.27,3218.6 678.17,3214.43 675.04,3210.28 671.88,3206.17 668.68,3202.09 665.45,3198.04 662.18,3194.01 658.89,3190.02 655.56,3186.06 652.2,3182.14 648.8,3178.24 645.38,3174.37 641.93,3170.54 638.44,3166.74 634.93,3162.98 631.38,3159.24 627.8,3155.55 624.2,3151.88 620.56,3148.25 616.9,3144.65 613.2,3141.09 609.48,3137.56 605.73,3134.07 601.95,3130.61 598.15,3127.19 594.31,3123.81 590.45,3120.46 586.56,3117.15 582.65,3113.87 578.71,3110.64 574.74,3107.44 570.75,3104.27 566.73,3101.15 562.69,3098.06 558.62,3095.01 554.53,3092 550.41,3089.03 546.27,3086.09 542.11,3083.2 537.92,3080.35 533.71,3077.53 529.48,3074.76 525.23,3072.02 520.95,3069.33 516.65,3066.67 512.33,3064.06 507.99,3061.49 503.63,3058.95 499.25,3056.46 494.85,3054.01 490.43,3051.61 485.99,3049.24 481.53,3046.92 477.05,3044.63 472.56,3042.39 468.04,3040.2 463.51,3038.04 458.96,3035.93 454.4,3033.86 449.81,3031.84 445.22,3029.85 440.6,3027.92 435.97,3026.02 431.33,3024.17 426.67,3022.36 421.99,3020.6 417.31,3018.88 412.61,3017.2 407.89,3015.57 403.16,3013.99 398.42,3012.44 393.67,3010.95 388.9,3009.49 384.13,3008.09 379.34,3006.73 374.54,3005.41 369.73,3004.14 364.91,3002.91 360.09,3001.73 355.25,3000.6 350.4,2999.51 345.55,2998.46 340.68,2997.46 335.81,2996.51 330.93,2995.61 326.05,2994.75 321.15,2993.93 316.25,2993.17 311.35,2992.44 306.44,2991.77 301.52,2991.14 296.6,2990.56 291.67,2990.02 286.74,2989.53 281.81,2989.09 276.87,2988.69 271.93,2988.34 266.99,2988.04 262.05,2987.78 257.1,2987.57 252.15,2987.41 247.2,2987.29 242.25,2987.22 237.3,2987.2" fill="none" stroke="#000" stroke-width="3"/>
<polyline points="1088.25,3600.2 1088.22,3592.18 1088.12,3584.15 1087.96,3576.13 1087.73,3568.11 1087.44,3560.09 1087.08,3552.08 1086.66,3544.07 1086.18,3536.06 1085.63,3528.06 1085.01,3520.06 1084.33,3512.07 1083.59,3504.09 1082.78,3496.11 1081.91,3488.14 1080.97,3480.18 1079.97,3472.23 1078.9,3464.29 1077.77,3456.36 1076.58,3448.44 1075.32,3440.53 1074,3432.63 1072.62,3424.75 1071.17,3416.88 1069.65,3409.03 1068.08,3401.18 1066.44,3393.36 1064.74,3385.55 1062.97,3377.75 1061.15,3369.98 1059.25,3362.22 1057.3,3354.47 1055.29,3346.75 1053.21,3339.05 1051.07,3331.36 1048.87,3323.7 1046.6,3316.06 1044.28,3308.44 1041.89,3300.84 1039.44,3293.26 1036.93,3285.71 1034.36,3278.18 1031.73,3270.68 1029.04,3263.2 1026.29,3255.75 1023.48,3248.32 1020.6,3240.92 1017.67,3233.55 1014.68,3226.21 1011.63,3218.89 1008.52,3211.6 1005.35,3204.35 1002.13,3197.12 998.84,3189.92 995.5,3182.76 992.1,3175.62 988.64,3168.52 985.13,3161.45 981.56,3154.42 977.93,3147.42 974.24,3140.45 970.5,3133.52 966.71,3126.62 962.85,3119.76 958.95,3112.94 954.98,3106.15 950.97,3099.4 946.9,3092.69 942.77,3086.02 938.59,3079.39 934.36,3072.8 930.07,3066.24 925.73,3059.73 921.34,3053.26 916.9,3046.83 912.4,3040.44 907.86,3034.1 903.26,3027.8 898.61,3021.54 893.91,3015.33 889.17,3009.16 884.37,3003.03 879.52,2996.95 874.62,2990.92 869.68,2984.93 864.69,2978.99 859.65,2973.1 854.56,2967.26 849.42,2961.46 844.24,2955.71 839.01,2950.02 833.74,2944.37 828.42,2938.77 823.06,2933.22 817.65,2927.72 812.19,2922.27 806.7,2916.88 801.16,2911.54 795.57,2906.24 789.95,2901.01 784.28,2895.82 778.57,2890.69 772.82,2885.61 767.03,2880.59 761.2,2875.62 755.33,2870.71 749.41,2865.85 743.46,2861.05 737.48,2856.31 731.45,2851.62 725.38,2846.99 719.28,2842.42 713.15,2837.9 706.97,2833.44 700.76,2829.04 694.52,2824.7 688.23,2820.42 681.92,2816.2 675.57,2812.03 669.19,2807.93 662.78,2803.89 656.33,2799.91 649.85,2795.99 643.34,2792.13 636.8,2788.33 630.22,2784.59 623.62,2780.92 616.99,2777.31 610.33,2773.76 603.64,2770.27 596.93,2766.85 590.18,2763.49 583.41,2760.19 576.62,2756.96 569.79,2753.8 562.94,2750.69 556.07,2747.65 549.17,2744.68 542.25,2741.77 535.31,2738.93 528.34,2736.15 521.35,2733.44 514.34,2730.8 507.31,2728.22 500.26,2725.7 493.19,2723.26 486.09,2720.88 478.98,2718.57 471.85,2716.32 464.71,2714.14 457.54,2712.03 450.36,2709.99 443.16,2708.01 435.95,2706.11 428.72,2704.27 421.48,2702.5 414.22,2700.79 406.95,2699.16 399.67,2697.59 392.37,2696.1 385.07,2694.67 377.75,2693.31 370.42,2692.02 363.08,2690.8 355.73,2689.65 348.37,2688.57 341,2687.55 333.63,2686.61 326.25,2685.74 318.86,2684.93 311.47,2684.2 304.06,2683.53 296.66,2682.94 289.25,2682.42 281.84,2681.96 274.42,2681.58 267,2681.26 259.58,2681.02 252.15,2680.84 244.73,2680.74 237.3,2680.7" fill="none" stroke="#000" stroke-width="3"/>
<polyline points="1371.9,3600.2 1371.86,3589.5 1371.73,3578.8 1371.51,3568.11 1371.21,3557.41 1370.82,3546.72 1370.35,3536.04 1369.78,3525.35 1369.14,3514.68 1368.4,3504.01 1367.58,3493.35 1366.68,3482.69 1365.68,3472.05 1364.61,3461.41 1363.44,3450.79 1362.19,3440.17 1360.86,3429.57 1359.44,3418.99 1357.93,3408.41 1356.34,3397.85 1354.66,3387.31 1352.9,3376.78 1351.05,3366.27 1349.12,3355.77 1347.11,3345.3 1345.01,3334.85 1342.82,3324.41 1340.55,3314 1338.2,3303.6 1335.76,3293.23 1333.24,3282.89 1330.64,3272.57 1327.95,3262.27 1325.18,3252 1322.32,3241.75 1319.39,3231.53 1316.37,3221.35 1313.27,3211.18 1310.09,3201.05 1306.82,3190.95 1303.48,3180.88 1300.05,3170.85 1296.54,3160.84 1292.95,3150.87 1289.28,3140.93 1285.53,3131.03 1281.7,3121.16 1277.8,3111.33 1273.81,3101.54 1269.74,3091.79 1265.6,3082.07 1261.37,3072.39 1257.07,3062.76 1252.69,3053.16 1248.24,3043.61 1243.7,3034.1 1239.09,3024.63 1234.41,3015.2 1229.64,3005.82 1224.81,2996.49 1219.89,2987.2 1214.9,2977.96 1209.84,2968.76 1204.71,2959.62 1199.5,2950.52 1194.21,2941.47 1188.86,2932.47 1183.43,2923.53 1177.93,2914.63 1172.35,2905.79 1166.71,2897 1161,2888.26 1155.21,2879.58 1149.36,2870.95 1143.43,2862.37 1137.44,2853.86 1131.38,2845.4 1125.25,2837 1119.05,2828.65 1112.79,2820.37 1106.45,2812.14 1100.06,2803.98 1093.59,2795.87 1087.07,2787.83 1080.47,2779.85 1073.81,2771.93 1067.09,2764.07 1060.31,2756.28 1053.46,2748.55 1046.55,2740.89 1039.58,2733.29 1032.55,2725.75 1025.46,2718.29 1018.31,2710.89 1011.1,2703.56 1003.82,2696.3 996.5,2689.1 989.11,2681.98 981.66,2674.93 974.16,2667.94 966.61,2661.03 958.99,2654.19 951.33,2647.42 943.61,2640.72 935.83,2634.1 928,2627.55 920.12,2621.07 912.19,2614.67 904.2,2608.35 896.17,2602.09 888.08,2595.92 879.94,2589.82 871.76,2583.8 863.53,2577.86 855.25,2571.99 846.92,2566.2 838.55,2560.49 830.13,2554.86 821.66,2549.31 813.15,2543.84 804.6,2538.45 796,2533.14 787.36,2527.92 778.68,2522.77 769.96,2517.71 761.2,2512.72 752.4,2507.83 743.56,2503.01 734.68,2498.28 725.76,2493.63 716.8,2489.07 707.81,2484.59 698.78,2480.19 689.72,2475.88 680.62,2471.66 671.49,2467.52 662.33,2463.47 653.13,2459.51 643.9,2455.63 634.65,2451.84 625.36,2448.14 616.04,2444.52 606.69,2440.99 597.31,2437.56 587.91,2434.2 578.48,2430.94 569.02,2427.77 559.54,2424.69 550.04,2421.69 540.51,2418.79 530.96,2415.97 521.38,2413.25 511.78,2410.62 502.17,2408.07 492.53,2405.62 482.87,2403.26 473.2,2400.99 463.5,2398.81 453.79,2396.73 444.06,2394.73 434.32,2392.83 424.56,2391.01 414.79,2389.29 405,2387.67 395.21,2386.13 385.4,2384.69 375.57,2383.34 365.74,2382.08 355.9,2380.92 346.05,2379.84 336.19,2378.87 326.32,2377.98 316.45,2377.19 306.57,2376.49 296.68,2375.88 286.79,2375.37 276.9,2374.95 267,2374.62 257.1,2374.39 247.2,2374.25 237.3,2374.2" fill="none" stroke="#000" stroke-width="3"/>
<polyline points="1655.55,3600.2 1655.5,3586.83 1655.33,3573.45 1655.06,3560.08 1654.69,3546.72 1654.2,3533.35 1653.61,3520 1652.9,3506.64 1652.1,3493.3 1651.18,3479.96 1650.15,3466.63 1649.02,3453.32 1647.78,3440.01 1646.43,3426.72 1644.98,3413.44 1643.42,3400.17 1641.75,3386.92 1639.97,3373.68 1638.09,3360.46 1636.1,3347.26 1634,3334.08 1631.8,3320.92 1629.49,3307.79 1627.08,3294.67 1624.56,3281.58 1621.93,3268.51 1619.2,3255.46 1616.36,3242.44 1613.42,3229.45 1610.38,3216.49 1607.22,3203.56 1603.97,3190.66 1600.61,3177.79 1597.15,3164.95 1593.58,3152.14 1589.91,3139.37 1586.14,3126.63 1582.26,3113.93 1578.28,3101.27 1574.2,3088.64 1570.02,3076.05 1565.74,3063.51 1561.35,3051 1556.86,3038.54 1552.28,3026.12 1547.59,3013.74 1542.81,3001.4 1537.92,2989.12 1532.94,2976.88 1527.85,2964.68 1522.67,2952.54 1517.39,2940.44 1512.01,2928.4 1506.54,2916.4 1500.97,2904.46 1495.3,2892.57 1489.54,2880.73 1483.68,2868.95 1477.73,2857.23 1471.68,2845.56 1465.54,2833.95 1459.31,2822.4 1452.98,2810.9 1446.56,2799.47 1440.04,2788.1 1433.44,2776.79 1426.74,2765.54 1419.96,2754.36 1413.08,2743.24 1406.12,2732.18 1399.06,2721.19 1391.92,2710.27 1384.69,2699.42 1377.37,2688.63 1369.96,2677.92 1362.47,2667.27 1354.9,2656.7 1347.23,2646.2 1339.49,2635.77 1331.66,2625.41 1323.74,2615.13 1315.75,2604.92 1307.67,2594.79 1299.51,2584.73 1291.27,2574.76 1282.94,2564.86 1274.54,2555.04 1266.06,2545.3 1257.5,2535.64 1248.87,2526.06 1240.15,2516.56 1231.36,2507.14 1222.5,2497.81 1213.56,2488.56 1204.54,2479.4 1195.46,2470.32 1186.29,2461.33 1177.06,2452.43 1167.76,2443.61 1158.38,2434.88 1148.93,2426.24 1139.42,2417.69 1129.83,2409.22 1120.18,2400.85 1110.46,2392.57 1100.68,2384.39 1090.82,2376.29 1080.91,2368.29 1070.93,2360.38 1060.88,2352.57 1050.77,2344.85 1040.61,2337.23 1030.38,2329.7 1020.08,2322.27 1009.73,2314.94 999.33,2307.7 988.86,2300.57 978.33,2293.53 967.75,2286.59 957.12,2279.75 946.43,2273.02 935.68,2266.38 924.88,2259.85 914.03,2253.41 903.13,2247.08 892.17,2240.86 881.17,2234.73 870.12,2228.71 859.02,2222.8 847.87,2216.99 836.68,2211.28 825.44,2205.68 814.15,2200.19 802.83,2194.81 791.45,2189.53 780.04,2184.35 768.59,2179.29 757.09,2174.34 745.56,2169.49 733.98,2164.75 722.37,2160.12 710.72,2155.6 699.04,2151.19 687.32,2146.89 675.56,2142.71 663.78,2138.63 651.96,2134.66 640.1,2130.81 628.22,2127.07 616.31,2123.44 604.37,2119.92 592.4,2116.51 580.41,2113.22 568.38,2110.04 556.34,2106.98 544.27,2104.03 532.17,2101.19 520.05,2098.47 507.91,2095.86 495.76,2093.36 483.58,2090.98 471.38,2088.72 459.16,2086.57 446.93,2084.53 434.68,2082.61 422.42,2080.81 410.14,2079.12 397.85,2077.55 385.55,2076.1 373.23,2074.76 360.91,2073.53 348.57,2072.42 336.23,2071.43 323.88,2070.56 311.53,2069.8 299.16,2069.16 286.8,2068.63 274.43,2068.23 262.05,2067.93 249.68,2067.76 237.3,2067.7" fill="none" stroke="#000" stroke-width="3.4"/>
<line x1="237.3" y1="3600.2" x2="240.7" y2="3563.6" stroke="#6a6ab8" stroke-width="1.4" stroke-dasharray="3 2"/>
<line x1="240.7" y1="3563.6" x2="379.12" y2="2075.38" stroke="#0c0c24" stroke-width="3.2" stroke-dasharray="13 2.5 3.5 2.5"/>
<line x1="237.3" y1="3600.2" x2="244.11" y2="3564.16" stroke="#6a6ab8" stroke-width="1.4" stroke-dasharray="3 2"/>
<line x1="244.11" y1="3564.16" x2="520.95" y2="2098.66" stroke="#0c0c24" stroke-width="3.2" stroke-dasharray="13 2.5 3.5 2.5"/>
<line x1="237.3" y1="3600.2" x2="247.51" y2="3565.11" stroke="#6a6ab8" stroke-width="1.4" stroke-dasharray="3 2"/>
<line x1="247.51" y1="3565.11" x2="662.77" y2="2138.29" stroke="#0c0c24" stroke-width="3.2" stroke-dasharray="13 2.5 3.5 2.5"/>
<line x1="237.3" y1="3600.2" x2="250.92" y2="3566.49" stroke="#6a6ab8" stroke-width="1.4" stroke-dasharray="3 2"/>
<line x1="250.92" y1="3566.49" x2="804.6" y2="2195.64" stroke="#0c0c24" stroke-width="3.2" stroke-dasharray="13 2.5 3.5 2.5"/>
<line x1="237.3" y1="3600.2" x2="254.32" y2="3568.35" stroke="#6a6ab8" stroke-width="1.4" stroke-dasharray="3 2"/>
<line x1="254.32" y1="3568.35" x2="946.42" y2="2273.02" stroke="#0c0c24" stroke-width="3.2" stroke-dasharray="13 2.5 3.5 2.5"/>
<line x1="237.3" y1="3600.2" x2="257.72" y2="3570.78" stroke="#6a6ab8" stroke-width="1.4" stroke-dasharray="3 2"/>
<line x1="257.72" y1="3570.78" x2="1088.25" y2="2374.2" stroke="#0c0c24" stroke-width="3.2" stroke-dasharray="13 2.5 3.5 2.5"/>
<line x1="237.3" y1="3600.2" x2="261.13" y2="3573.93" stroke="#6a6ab8" stroke-width="1.4" stroke-dasharray="3 2"/>
<line x1="261.13" y1="3573.93" x2="1230.08" y2="2505.78" stroke="#0c0c24" stroke-width="2.5"/>
<line x1="237.3" y1="3600.2" x2="264.53" y2="3578.13" stroke="#6a6ab8" stroke-width="1.4" stroke-dasharray="3 2"/>
<line x1="264.53" y1="3578.13" x2="1371.9" y2="2680.7" stroke="#0c0c24" stroke-width="2.5"/>
<line x1="237.3" y1="3600.2" x2="267.93" y2="3584.17" stroke="#6a6ab8" stroke-width="1.4" stroke-dasharray="3 2"/>
<line x1="267.93" y1="3584.17" x2="1513.72" y2="2932.2" stroke="#0c0c24" stroke-width="2.5"/>
<line x1="237.3" y1="3600.2" x2="269.64" y2="3588.72" stroke="#6a6ab8" stroke-width="1.4" stroke-dasharray="3 2"/>
<line x1="269.64" y1="3588.72" x2="1584.64" y2="3121.68" stroke="#0c0c24" stroke-width="2.5"/>
<line x1="237.3" y1="3600.2" x2="271" y2="3595.01" stroke="#6a6ab8" stroke-width="1.4" stroke-dasharray="3 2"/>
<line x1="271" y1="3595.01" x2="1641.37" y2="3384.01" stroke="#0c0c24" stroke-width="3.2" stroke-dasharray="13 2.5 3.5 2.5"/>
<polyline points="1624.03,3313.88 1615.57,3310.56 1607.02,3307.52 1598.39,3304.78 1589.67,3302.34 1580.9,3300.2 1572.06,3298.36 1563.17,3296.82 1554.24,3295.59 1545.28,3294.66 1536.3,3294.05 1527.3,3293.74 1518.3,3293.74 1509.31,3294.05 1500.32,3294.66 1491.36,3295.59 1482.43,3296.82 1473.55,3298.36 1464.71,3300.2 1455.93,3302.34 1447.22,3304.78 1438.58,3307.52 1430.03,3310.56 1421.57,3313.88 1413.22,3317.5 1404.97,3321.4 1396.84,3325.58 1388.84,3330.03 1380.98,3334.76 1373.25,3339.76 1365.68,3345.02 1358.27,3350.53 1351.02,3356.3 1343.95,3362.31 1337.05,3368.56 1330.34,3375.05 1323.83,3381.76 1317.51,3388.69 1311.41,3395.84 1305.51,3403.19 1299.84,3410.73 1294.39,3418.47 1289.17,3426.4 1284.18,3434.49 1279.43,3442.76 1274.93,3451.18 1270.68,3459.75 1266.69,3468.47 1262.95,3477.31 1259.47,3486.29 1256.26,3495.37 1253.31,3504.56 1250.64,3513.85 1248.24,3523.22 1246.12,3532.67 1244.28,3542.19 1242.71,3551.77 1241.43,3561.4 1240.44,3571.07 1239.72,3580.76 1239.29,3590.48 1239.15,3600.2" fill="none" stroke="#111" stroke-width="3.8" stroke-dasharray="5 8.8"/>
<polyline points="1531.8,2987.28 1513.8,2987.28 1495.81,2987.89 1477.84,2989.13 1459.92,2990.98 1442.07,2993.44 1424.29,2996.51 1406.61,3000.19 1389.06,3004.48 1371.63,3009.36 1354.36,3014.84 1337.26,3020.91 1320.34,3027.57 1303.63,3034.8 1287.14,3042.6 1270.88,3050.96 1254.88,3059.87 1239.15,3069.33 1223.71,3079.32 1208.56,3089.83 1193.74,3100.86 1179.24,3112.4 1165.09,3124.42 1151.3,3136.93 1137.88,3149.9 1124.86,3163.32 1112.23,3177.18 1100.01,3191.47 1088.22,3206.17 1076.87,3221.27 1065.97,3236.75 1055.53,3252.59 1045.56,3268.79 1036.07,3285.32 1027.07,3302.16 1018.57,3319.31 1010.57,3336.74 1003.09,3354.43 996.14,3372.37 989.71,3390.54 983.83,3408.92 978.48,3427.5 973.68,3446.25 969.44,3465.15 965.75,3484.19 962.63,3503.35 960.07,3522.6 958.07,3541.93 956.64,3561.32 955.79,3580.75 955.5,3600.2" fill="none" stroke="#111" stroke-width="3.8" stroke-dasharray="5 8.8"/>
<polyline points="1375.04,2694.67 1348.52,2700.19 1322.18,2706.62 1296.05,2713.95 1270.14,2722.17 1244.48,2731.27 1219.11,2741.25 1194.04,2752.1 1169.3,2763.79 1144.92,2776.33 1120.92,2789.7 1097.33,2803.89 1074.16,2818.88 1051.44,2834.65 1029.2,2851.2 1007.46,2868.5 986.23,2886.53 965.55,2905.29 945.42,2924.74 925.88,2944.88 906.94,2965.67 888.62,2987.11 870.94,3009.16 853.91,3031.8 837.56,3055.02 821.89,3078.79 806.94,3103.08 792.7,3127.87 779.2,3153.14 766.45,3178.86 754.46,3205 743.24,3231.54 732.81,3258.46 723.17,3285.71 714.34,3313.29 706.32,3341.15 699.13,3369.27 692.76,3397.62 687.23,3426.18 682.54,3454.92 678.7,3483.8 675.7,3512.8 673.57,3541.88 672.28,3571.03 671.85,3600.2" fill="none" stroke="#111" stroke-width="3.8" stroke-dasharray="5 8.8"/>
<polyline points="1151.71,2441.63 1117.88,2454.93 1084.45,2469.39 1051.47,2484.99 1018.96,2501.71 986.96,2519.54 955.5,2538.45 924.61,2558.44 894.32,2579.47 864.67,2601.53 835.68,2624.6 807.38,2648.64 779.8,2673.65 752.97,2699.59 726.91,2726.44 701.65,2754.16 677.22,2782.74 653.65,2812.14 630.95,2842.34 609.14,2873.29 588.26,2904.98 568.32,2937.37 549.33,2970.43 531.33,3004.12 514.33,3038.41 498.34,3073.27 483.39,3108.66 469.48,3144.54 456.63,3180.88 444.85,3217.65 434.16,3254.8 424.57,3292.29 416.08,3330.1 408.71,3368.18 402.45,3406.49 397.33,3445 393.34,3483.66 390.49,3522.44 388.77,3561.3 388.2,3600.2" fill="none" stroke="#111" stroke-width="3.8" stroke-dasharray="5 8.8"/>
<polyline points="853,2249.37 813.68,2273.02 775.06,2298 737.2,2324.29 700.14,2351.86 663.9,2380.69 628.52,2410.76 594.05,2442.01 560.51,2474.44 527.94,2508 496.37,2542.65 465.83,2578.38 436.36,2615.13 407.98,2652.87 380.73,2691.57 354.62,2731.18 329.69,2771.67 305.97,2812.99 283.46,2855.1 262.21,2897.97 242.23,2941.54" fill="none" stroke="#111" stroke-width="3.8" stroke-dasharray="5 8.8"/>
<polyline points="535.6,2102.19 492.11,2136.79 449.66,2172.87 408.29,2210.38 368.05,2249.29 328.96,2289.56 291.08,2331.14 254.44,2374.01" fill="none" stroke="#111" stroke-width="3.8" stroke-dasharray="5 8.8"/>
<polyline points="237.3,2067.7 237.3,3600.2 1655.55,3600.2" fill="none" stroke="#000" stroke-width="5" stroke-linejoin="round"/>
<text transform="translate(237.3 3685.6) scale(1 1.0806)" x="0" y="0" font-size="60" text-anchor="middle">0</text>
<text transform="translate(217.3 3625.15) scale(1 1.0806)" x="0" y="0" font-size="60" text-anchor="end">0</text>
<text transform="translate(520.95 3685.6) scale(1 1.0806)" x="0" y="0" font-size="60" text-anchor="middle">50</text>
<text transform="translate(217.3 3318.65) scale(1 1.0806)" x="0" y="0" font-size="60" text-anchor="end">50</text>
<text transform="translate(804.6 3685.6) scale(1 1.0806)" x="0" y="0" font-size="60" text-anchor="middle"><tspan class="one" font-size="54.96" letter-spacing="5.88">1</tspan>00</text>
<text transform="translate(217.3 3012.15) scale(1 1.0806)" x="0" y="0" font-size="60" text-anchor="end"><tspan class="one" font-size="54.96" letter-spacing="5.88">1</tspan>00</text>
<text transform="translate(1088.25 3685.6) scale(1 1.0806)" x="0" y="0" font-size="60" text-anchor="middle"><tspan class="one" font-size="54.96" letter-spacing="5.88">1</tspan>50</text>
<text transform="translate(217.3 2705.65) scale(1 1.0806)" x="0" y="0" font-size="60" text-anchor="end"><tspan class="one" font-size="54.96" letter-spacing="5.88">1</tspan>50</text>
<text transform="translate(1371.9 3685.6) scale(1 1.0806)" x="0" y="0" font-size="60" text-anchor="middle">200</text>
<text transform="translate(217.3 2399.15) scale(1 1.0806)" x="0" y="0" font-size="60" text-anchor="end">200</text>
<text transform="translate(1655.55 3685.6) scale(1 1.0806)" x="0" y="0" font-size="60" text-anchor="middle">250</text>
<text transform="translate(217.3 2092.65) scale(1 1.0806)" x="0" y="0" font-size="60" text-anchor="end">250</text>
<text transform="translate(237.3 2016.03) scale(1 1.0806)" x="0" y="0" font-size="60" text-anchor="middle">0</text>
<text transform="translate(386.22 2024.09) scale(1 1.0806)" x="0" y="0" font-size="60" text-anchor="middle">0.<tspan class="one" font-size="54.96" letter-spacing="5.88">1</tspan></text>
<text transform="translate(535.13 2048.54) scale(1 1.0806)" x="0" y="0" font-size="60" text-anchor="middle">0.2</text>
<text transform="translate(684.05 2090.14) scale(1 1.0806)" x="0" y="0" font-size="60" text-anchor="middle">0.3</text>
<text transform="translate(832.97 2150.36) scale(1 1.0806)" x="0" y="0" font-size="60" text-anchor="middle">0.4</text>
<text transform="translate(981.88 2231.61) scale(1 1.0806)" x="0" y="0" font-size="60" text-anchor="middle">0.5</text>
<text transform="translate(1130.8 2337.85) scale(1 1.0806)" x="0" y="0" font-size="60" text-anchor="middle">0.6</text>
<text transform="translate(1279.71 2476.01) scale(1 1.0806)" x="0" y="0" font-size="60" text-anchor="middle">0.7</text>
<text transform="translate(1428.63 2659.68) scale(1 1.0806)" x="0" y="0" font-size="60" text-anchor="middle">0.8</text>
<text transform="translate(1577.55 2923.75) scale(1 1.0806)" x="0" y="0" font-size="60" text-anchor="middle">0.9</text>
<text transform="translate(1652 3122.7) scale(1 1.0806)" x="0" y="0" font-size="60" text-anchor="middle">0.95</text>
<text transform="translate(1711.57 3398.16) scale(1 1.0806)" x="0" y="0" font-size="60" text-anchor="middle">0.99</text>
<text transform="translate(1726.46 3625.15) scale(1 1.0806)" x="0" y="0" font-size="60" text-anchor="middle"><tspan class="one" font-size="54.96" letter-spacing="5.88">1</tspan></text>
<text transform="translate(1523.5 3601.7) scale(1 1.0806) rotate(-25)" x="0" y="-13.99" font-size="66" text-anchor="start" xml:space="preserve">  0</text>
<text transform="translate(1404.43 3321.92) scale(1 1.0806) rotate(-25)" x="0" y="-13.99" font-size="66" text-anchor="start" xml:space="preserve">  50</text>
<text transform="translate(1284.55 3044.13) scale(1 1.0806) rotate(-25)" x="0" y="-13.99" font-size="66" text-anchor="start" xml:space="preserve">  <tspan class="one" font-size="60.46" letter-spacing="6.47">1</tspan>00</text>
<text transform="translate(1164.67 2766.35) scale(1 1.0806) rotate(-25)" x="0" y="-13.99" font-size="66" text-anchor="start" xml:space="preserve">  <tspan class="one" font-size="60.46" letter-spacing="6.47">1</tspan>50</text>
<text transform="translate(1044.8 2488.57) scale(1 1.0806) rotate(-25)" x="0" y="-13.99" font-size="66" text-anchor="start" xml:space="preserve">  200</text>
<text transform="translate(1025.84 2141.3) scale(1 1.0806) rotate(18)" x="0" y="-12.72" font-size="67" text-anchor="middle" font-weight="bold">C</text>
<text transform="translate(1050.27 2157.77) scale(1 1.0806) rotate(31.36)" x="0" y="-12.72" font-size="60" text-anchor="middle" font-weight="bold">o</text>
<text transform="translate(1081.74 2177.06) scale(1 1.0806) rotate(32.73)" x="0" y="-12.72" font-size="60" text-anchor="middle" font-weight="bold">r</text>
<text transform="translate(1113.73 2201.15) scale(1 1.0806) rotate(34.09)" x="0" y="-12.72" font-size="60" text-anchor="middle" font-weight="bold">r</text>
<text transform="translate(1144.23 2224.03) scale(1 1.0806) rotate(35.45)" x="0" y="-12.72" font-size="60" text-anchor="middle" font-weight="bold">e</text>
<text transform="translate(1172.22 2250.69) scale(1 1.0806) rotate(36.82)" x="0" y="-12.72" font-size="60" text-anchor="middle" font-weight="bold">l</text>
<text transform="translate(1201.67 2275.11) scale(1 1.0806) rotate(38.18)" x="0" y="-12.72" font-size="60" text-anchor="middle" font-weight="bold">a</text>
<text transform="translate(1230.58 2300.28) scale(1 1.0806) rotate(39.55)" x="0" y="-12.72" font-size="60" text-anchor="middle" font-weight="bold">t</text>
<text transform="translate(1258.93 2326.2) scale(1 1.0806) rotate(40.91)" x="0" y="-12.72" font-size="60" text-anchor="middle" font-weight="bold">i</text>
<text transform="translate(1286.7 2352.83) scale(1 1.0806) rotate(42.27)" x="0" y="-12.72" font-size="60" text-anchor="middle" font-weight="bold">o</text>
<text transform="translate(1313.88 2380.17) scale(1 1.0806) rotate(43.64)" x="0" y="-12.72" font-size="60" text-anchor="middle" font-weight="bold">n</text>
<text transform="translate(1366.38 2436.9) scale(1 1.0806) rotate(46.36)" x="0" y="-12.72" font-size="60" text-anchor="middle" font-weight="bold">C</text>
<text transform="translate(1391.68 2466.26) scale(1 1.0806) rotate(47.73)" x="0" y="-12.72" font-size="60" text-anchor="middle" font-weight="bold">o</text>
<text transform="translate(1416.33 2496.27) scale(1 1.0806) rotate(49.09)" x="0" y="-12.72" font-size="60" text-anchor="middle" font-weight="bold">e</text>
<text transform="translate(1440.3 2526.9) scale(1 1.0806) rotate(50.45)" x="0" y="-12.72" font-size="60" text-anchor="middle" font-weight="bold">f</text>
<text transform="translate(1463.6 2558.14) scale(1 1.0806) rotate(51.82)" x="0" y="-12.72" font-size="60" text-anchor="middle" font-weight="bold">f</text>
<text transform="translate(1486.2 2589.97) scale(1 1.0806) rotate(53.18)" x="0" y="-12.72" font-size="60" text-anchor="middle" font-weight="bold">i</text>
<text transform="translate(1508.1 2622.37) scale(1 1.0806) rotate(54.55)" x="0" y="-12.72" font-size="60" text-anchor="middle" font-weight="bold">c</text>
<text transform="translate(1529.27 2655.32) scale(1 1.0806) rotate(55.91)" x="0" y="-12.72" font-size="60" text-anchor="middle" font-weight="bold">i</text>
<text transform="translate(1549.72 2688.81) scale(1 1.0806) rotate(57.27)" x="0" y="-12.72" font-size="60" text-anchor="middle" font-weight="bold">e</text>
<text transform="translate(1569.42 2722.82) scale(1 1.0806) rotate(58.64)" x="0" y="-12.72" font-size="60" text-anchor="middle" font-weight="bold">n</text>
<text transform="translate(1588.36 2757.32) scale(1 1.0806) rotate(60)" x="0" y="-12.72" font-size="60" text-anchor="middle" font-weight="bold">t</text>
<text transform="translate(1233.94 3602) scale(1 1.0806) rotate(-90)" x="0" y="-13.99" font-size="66" text-anchor="middle" font-weight="bold">R</text>
<text transform="translate(1241.82 3529.2) scale(1 1.0806) rotate(-76.67)" x="0" y="-13.99" font-size="66" text-anchor="middle" font-weight="bold">M</text>
<text transform="translate(1265.02 3460.32) scale(1 1.0806) rotate(-63.33)" x="0" y="-13.99" font-size="66" text-anchor="middle" font-weight="bold">S</text>
<text transform="translate(1302.29 3399.08) scale(1 1.0806) rotate(-50)" x="0" y="-13.99" font-size="66" text-anchor="middle" font-weight="bold">D</text>
<text transform="translate(92.1 2833.95) scale(1 1.0806) rotate(-90)" x="0" y="0" font-size="66.5" text-anchor="middle" font-weight="bold">Standard Deviation</text>
<text transform="translate(1522.8 3743.8) scale(1 1.0806)" x="0" y="0" font-size="60.8" text-anchor="middle" font-weight="bold">Expected</text>
<ellipse cx="1522.8" cy="3600.5" rx="20.5" ry="23.5" fill="#000"/>
<path d="M1479.9 3455.7L1519.9 3455.7M1499.9 3433.8L1499.9 3477.6" stroke="#000030" stroke-width="7.5"/>
<rect x="1471.8" y="3403.5" width="37" height="39" fill="url(#gbs)" stroke="#000" stroke-width="4"/>
<ellipse cx="1478.7" cy="3369" rx="21.5" ry="23.5" fill="url(#gb)" stroke="#000" stroke-width="4"/>
<rect x="1473.8" y="3405.5" width="33" height="35" fill="url(#gbs)"/>
<ellipse cx="1478.7" cy="3369" rx="19.5" ry="21.5" fill="url(#gb)"/>
<path d="M1510.3 3338.7L1538.3 3369.3M1510.3 3369.3L1538.3 3338.7" stroke="#000028" stroke-width="7.5"/>
<polygon points="1180,3032.5 1203,3065 1180,3097.5 1157,3065" fill="url(#gb)" stroke="#000" stroke-width="4" stroke-linejoin="miter"/>
<path d="M1470.9 3439.7L1508.9 3439.7M1489.9 3419.2L1489.9 3460.2" stroke="#ff0000" stroke-width="7.5"/>
<rect x="1734.1" y="2065.2" width="436.9" height="522.8" fill="#fff" stroke="#000" stroke-width="3"/>
<path d="M1774.4 2114.5L1814.4 2114.5M1794.4 2092.6L1794.4 2136.4" stroke="#000030" stroke-width="7.5"/>
<text transform="translate(1852 2137.45) scale(1 1.0806)" font-size="60">MVO-MLP</text>
<ellipse cx="1794.4" cy="2199" rx="21.5" ry="23.5" fill="url(#gb)" stroke="#000" stroke-width="4"/>
<text transform="translate(1852 2221.95) scale(1 1.0806)" font-size="60">COA-MLP</text>
<path d="M1780.4 2268.2L1808.4 2298.8M1780.4 2298.8L1808.4 2268.2" stroke="#000028" stroke-width="7.5"/>
<text transform="translate(1852 2306.45) scale(1 1.0806)" font-size="60">HBO-MLP</text>
<rect x="1775.9" y="2350.2" width="37" height="39" fill="url(#gbs)" stroke="#000" stroke-width="4"/>
<text transform="translate(1852 2392.65) scale(1 1.0806)" font-size="60">LCA-MLP</text>
<polygon points="1794.4,2421.7 1817.4,2454.2 1794.4,2486.7 1771.4,2454.2" fill="url(#gb)" stroke="#000" stroke-width="4" stroke-linejoin="miter"/>
<text transform="translate(1852 2477.15) scale(1 1.0806)" font-size="60">OOA-MLP</text>
<path d="M1775.4 2540.5L1813.4 2540.5M1794.4 2520L1794.4 2561" stroke="#6a0000" stroke-width="7.5"/>
<text transform="translate(1852 2563.45) scale(1 1.0806)" font-size="60">STOA-MLP</text>
<text x="1116.5" y="3884.7" style="font-family:'Liberation Serif','Times New Roman',serif;stroke:none" font-size="85" letter-spacing="-2" text-anchor="middle">(<tspan font-weight="bold">b</tspan>)</text>
</svg>
</body></html>
